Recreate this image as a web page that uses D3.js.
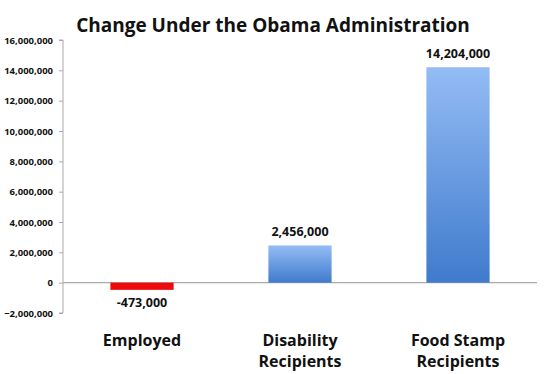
<!DOCTYPE html>
<html><head><meta charset="utf-8">
<script src="https://cdn.jsdelivr.net/npm/d3@7"></script>
<style>body{margin:0;background:#fff}svg{display:block}text{font-family:"Open Sans",sans-serif;font-weight:bold;fill:#111}</style>
</head><body>
<svg id="c" width="550" height="374"></svg>
<script>
const categories = [["Employed"], ["Disability", "Recipients"], ["Food Stamp", "Recipients"]];
const values = [-473000, 2456000, 14204000];
const valueLabels = ["-473,000", "2,456,000", "14,204,000"];
const yTicks = [-2000000, 0, 2000000, 4000000, 6000000, 8000000, 10000000, 12000000, 14000000, 16000000];
const title = "Change Under the Obama Administration";

(function(){
const svg = d3.select("#c");
const mLeft = 63, mRight = 537, mTop = 40, mBottom = 313;
const keys = categories.map(c => c.join(" "));
const x = d3.scaleBand().domain(keys).range([mLeft, mRight]).paddingInner(0.6).paddingOuter(0.3);
const y = d3.scaleLinear().domain([-2000000, 16000000]).range([mBottom, mTop]);

const defs = svg.append("defs");
const g = defs.append("linearGradient").attr("id","blue").attr("x1",0).attr("y1",0).attr("x2",0).attr("y2",1);
g.append("stop").attr("offset","0%").attr("stop-color","#94bcf5");
g.append("stop").attr("offset","100%").attr("stop-color","#3f7bcc");

svg.append("text").attr("x", 273).attr("y", 32).attr("text-anchor","middle")
  .style("font-size","19px").text(title);

const yAxis = svg.append("g").attr("transform",`translate(${mLeft},0)`)
  .call(d3.axisLeft(y).tickValues(yTicks).tickSize(4).tickPadding(6).tickFormat(d3.format(",")));
yAxis.select(".domain").attr("stroke","#aaa").attr("d", `M-4,${mTop}H0V${mBottom}H-4`);
yAxis.selectAll(".tick line").attr("stroke","#aaa");
yAxis.selectAll(".tick text").style("font-size","9.5px").attr("fill","#111");

svg.append("line").attr("x1", mLeft).attr("x2", mRight).attr("y1", y(0)).attr("y2", y(0))
  .attr("stroke","#aaa").attr("stroke-width",1.2);

const xs = i => x(keys[i]);
svg.selectAll("rect.bar").data(values).join("rect").attr("class","bar")
  .attr("x",(d,i)=>xs(i)).attr("width",x.bandwidth())
  .attr("y",d=>y(Math.max(0,d))).attr("height",d=>Math.abs(y(d)-y(0)))
  .attr("fill",d=>d<0?"#ee0a0a":"url(#blue)");

svg.selectAll("text.val").data(values).join("text").attr("class","val")
  .attr("x",(d,i)=>xs(i)+x.bandwidth()/2)
  .attr("y",d=> d<0 ? y(d)+17 : y(d)-9)
  .attr("text-anchor","middle").style("font-size","12.5px")
  .text((d,i)=>valueLabels[i]);

categories.forEach((lines,i)=>{
  const cx = xs(i)+x.bandwidth()/2;
  const t = svg.append("text").attr("x", cx).attr("y", 346)
    .attr("text-anchor","middle").style("font-size","16px");
  lines.forEach((l,j)=> t.append("tspan").attr("x", cx).attr("dy", j?21:0).text(l));
});
})();
</script>
</body></html>
